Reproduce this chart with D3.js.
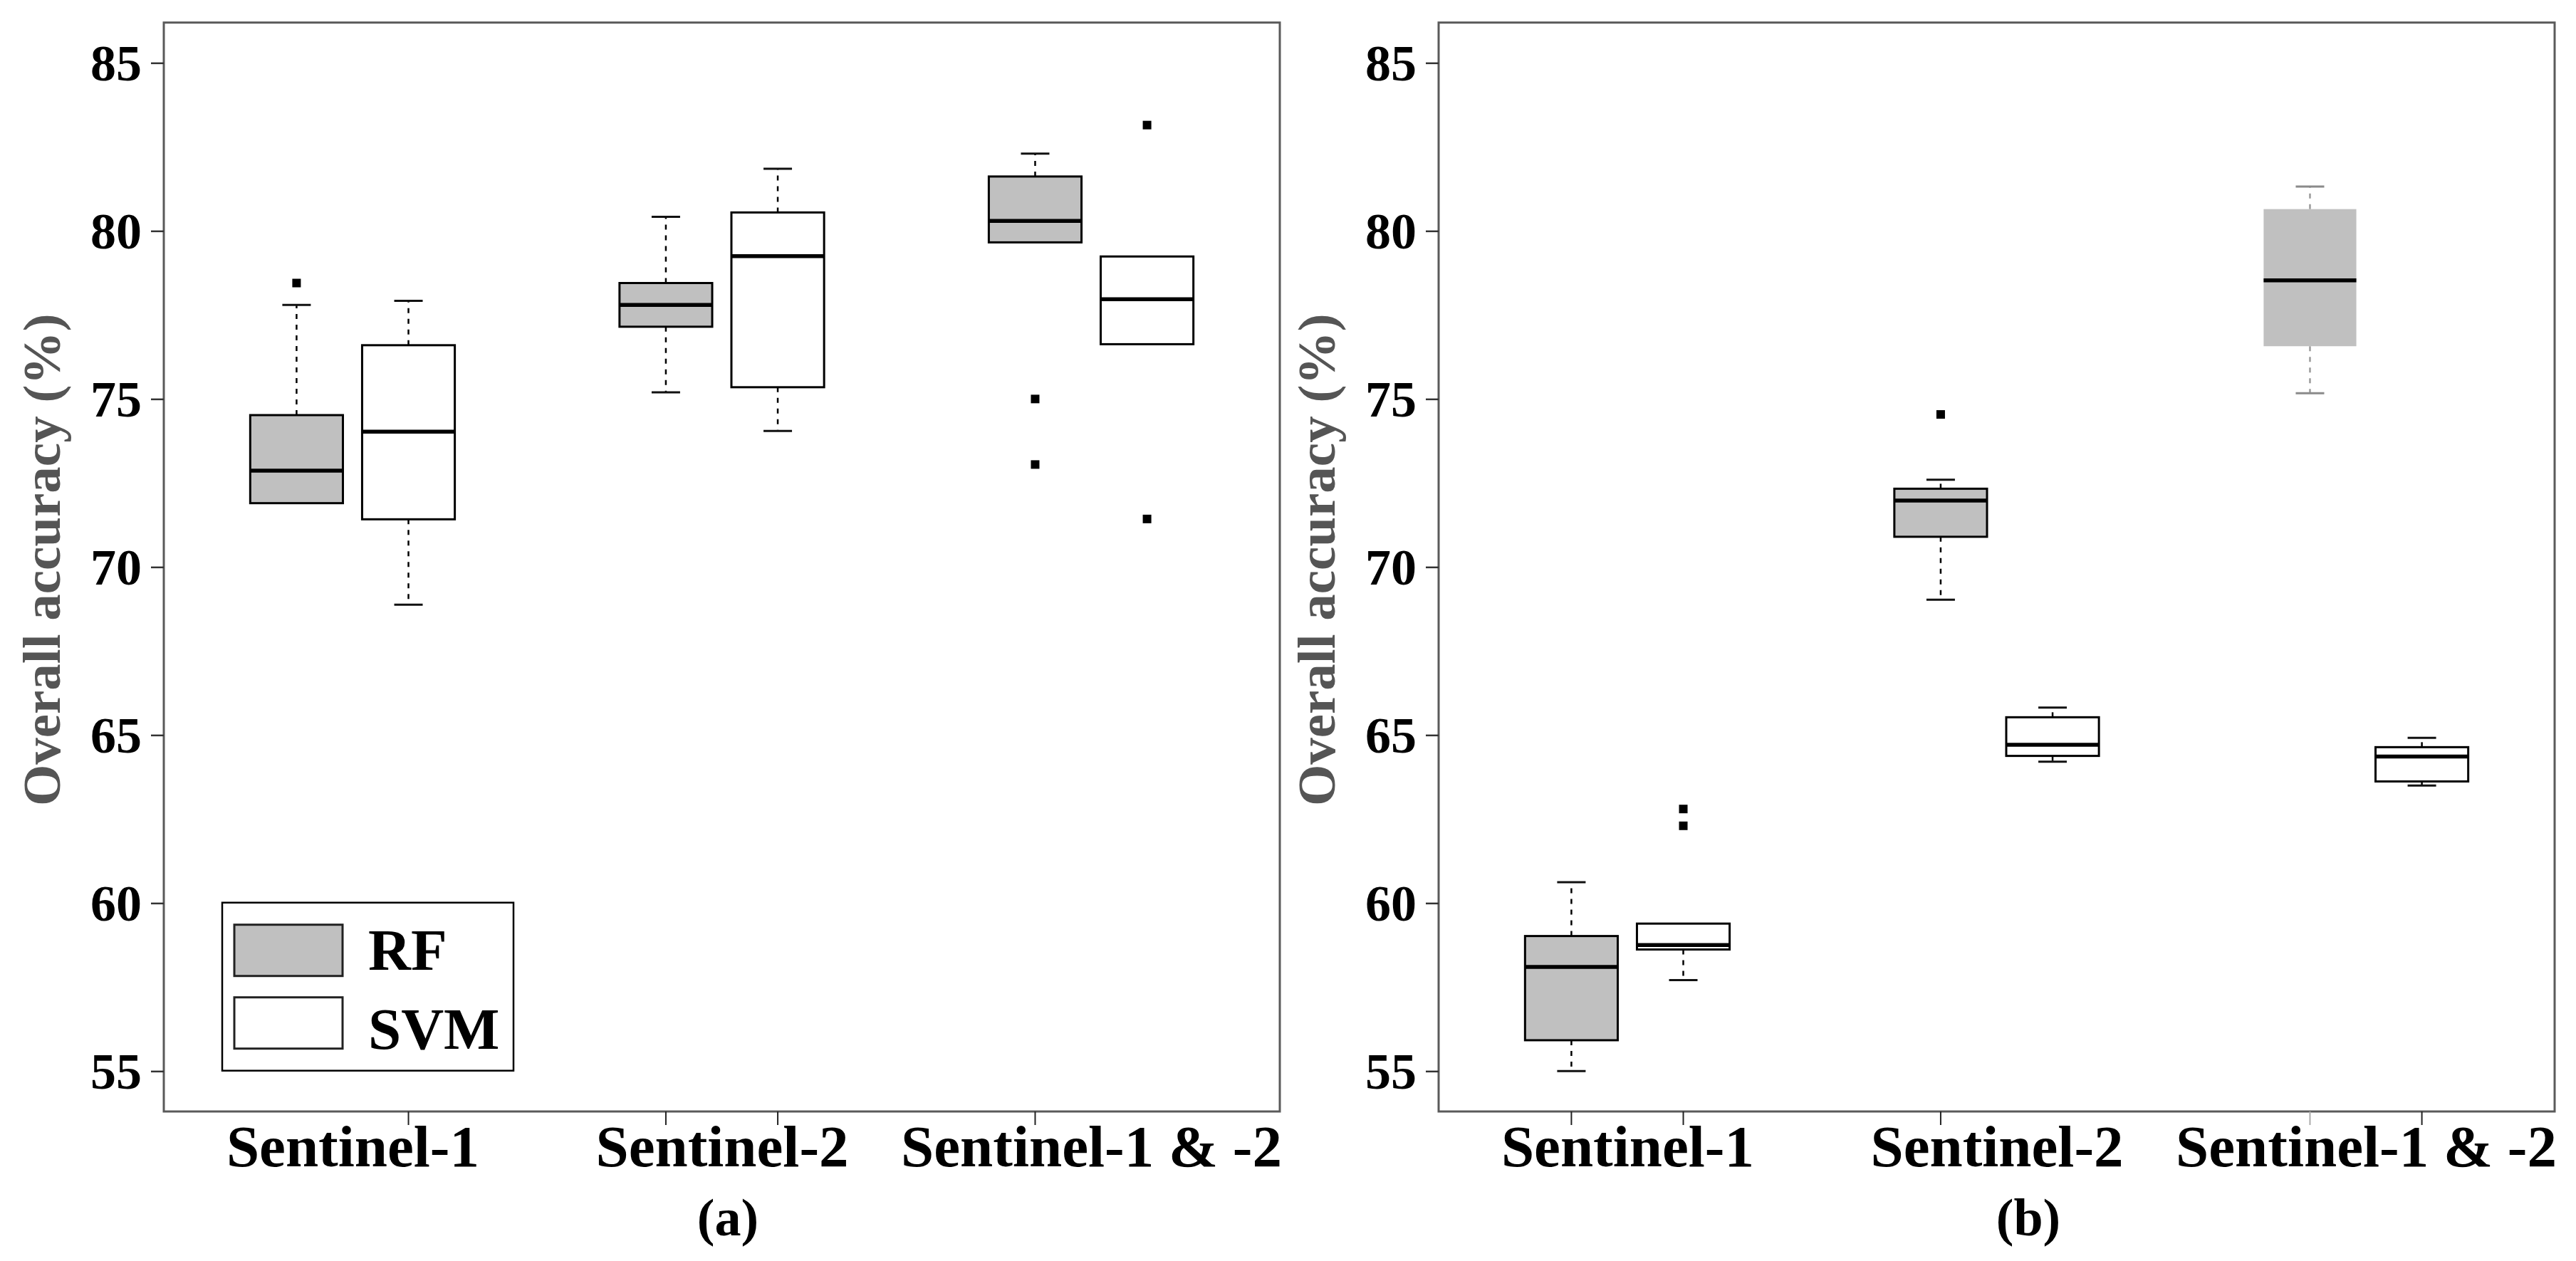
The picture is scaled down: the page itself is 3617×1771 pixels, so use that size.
<!DOCTYPE html>
<html lang="en">
<head>
<meta charset="UTF-8" />
<script src="https://d3js.org/d3.v7.min.js"></script>
<style>
  body { margin: 0; background: #fff; }
  text { font-family: "Liberation Serif", "Times New Roman", serif; font-weight: bold; }
</style>
</head>
<body>
<svg id="chart" width="3617" height="1771"></svg>
<script>
  const groups = ["Sentinel-1", "Sentinel-2", "Sentinel-1 & -2"];
  const methods = ["RF", "SVM"];
  const yTicks = [55, 60, 65, 70, 75, 80, 85];

  // each box: [lower whisker, Q1, median, Q3, upper whisker]
  const rfA  = [[71.9, 71.9, 72.87, 74.52, 77.8], [75.2, 77.15, 77.8, 78.45, 80.42], [79.66, 79.66, 80.3, 81.62, 82.3]];
  const svmA = [[68.88, 71.42, 74.03, 76.6, 77.92], [74.05, 75.35, 79.25, 80.55, 81.85], [76.63, 76.63, 77.97, 79.24, 79.24]];
  const rfAOut  = [[78.45], [], [75.0, 73.05]];
  const svmAOut = [[], [], [83.15, 71.43]];

  const rfB  = [[55.0, 55.92, 58.1, 59.02, 60.62], [69.03, 70.9, 71.98, 72.33, 72.6], [75.17, 76.57, 78.53, 80.65, 81.32]];
  const svmB = [[57.71, 58.62, 58.75, 59.39, 59.39], [64.21, 64.38, 64.71, 65.53, 65.82], [63.5, 63.62, 64.36, 64.64, 64.92]];
  const rfBOut  = [[], [74.54], []];
  const svmBOut = [[62.8, 62.3], [], []];

  const panels = [
    { tag: "(a)", left: 230, series: [rfA, svmA], outliers: [rfAOut, svmAOut], legend: true,
      tagX: 792, noTick: ["RF|0", "SVM|2"], faint: [] },
    { tag: "(b)", left: 2020, series: [rfB, svmB], outliers: [rfBOut, svmBOut], legend: false,
      tagX: 828, noTick: ["SVM|1"], faint: ["RF|2"] }
  ];

  const fills = { RF: "#c0c0c0", SVM: "#ffffff" };
  const plotTop = 31.7, W = 1567, H = 1529.3;

  const svg = d3.select("#chart");

  panels.forEach(p => {
    const g = svg.append("g").attr("transform", `translate(${p.left},${plotTop})`);

    const y = d3.scaleLinear().domain([53.8, 86.2]).range([H, 0]);
    const x = d3.scalePoint().domain(groups).range([0, W]).padding(0.511);
    const off = x.step() * 0.1515, bw = x.step() * 0.251, capW = 40;
    const cx = (m, i) => x(groups[i]) + (m === 0 ? -off : off);

    // boxes
    methods.forEach((name, m) => {
      p.series[m].forEach((b, i) => {
        const [lo, q1, med, q3, hi] = b;
        const c = cx(m, i);
        const faint = p.faint.includes(`${name}|${i}`);
        const wc = faint ? "#9a9a9a" : "#000";
        const bg = g.append("g");

        [[q3, hi], [q1, lo]].forEach(([a, e]) => {
          if (Math.abs(a - e) < 1e-9) return;
          bg.append("line")
            .attr("x1", c).attr("x2", c).attr("y1", y(a)).attr("y2", y(e))
            .attr("stroke", wc).attr("stroke-width", 2.5).attr("stroke-dasharray", "7,8");
          bg.append("line")
            .attr("x1", c - capW / 2).attr("x2", c + capW / 2).attr("y1", y(e)).attr("y2", y(e))
            .attr("stroke", faint ? "#8a8a8a" : "#111").attr("stroke-width", 3);
        });

        bg.append("rect")
          .attr("x", c - bw / 2).attr("width", bw)
          .attr("y", y(q3)).attr("height", y(q1) - y(q3))
          .attr("fill", fills[name])
          .attr("stroke", faint ? "none" : "#000").attr("stroke-width", 3);

        bg.append("line")
          .attr("x1", c - bw / 2).attr("x2", c + bw / 2).attr("y1", y(med)).attr("y2", y(med))
          .attr("stroke", "#000").attr("stroke-width", 5.5);

        bg.selectAll("rect.out").data(p.outliers[m][i]).enter().append("rect")
          .attr("class", "out")
          .attr("x", c - 6).attr("y", v => y(v) - 6)
          .attr("width", 12).attr("height", 12)
          .attr("fill", "#000");
      });
    });

    // frame
    g.append("rect").attr("width", W).attr("height", H)
      .attr("fill", "none").attr("stroke", "#5a5a5a").attr("stroke-width", 3);

    // y axis
    const ya = g.append("g").call(d3.axisLeft(y).tickValues(yTicks).tickSize(18).tickPadding(13));
    ya.select(".domain").remove();
    ya.selectAll(".tick line").attr("stroke", "#333").attr("stroke-width", 2.5);
    ya.selectAll("text").attr("font-size", 72).attr("fill", "#000").attr("dy", "0.34em");

    // x axis labels at group centres
    const xa = g.append("g").attr("transform", `translate(0,${H})`)
      .call(d3.axisBottom(x).tickSize(0));
    xa.select(".domain").remove();
    xa.selectAll("text").attr("font-size", 83).attr("fill", "#000").attr("y", 77).attr("dy", 0);

    // x ticks at each box
    methods.forEach((name, m) => {
      groups.forEach((gr, i) => {
        const key = `${name}|${i}`;
        if (p.noTick.includes(key)) return;
        g.append("line")
          .attr("x1", cx(m, i)).attr("x2", cx(m, i)).attr("y1", H).attr("y2", H + 19)
          .attr("stroke", p.faint.includes(key) ? "#aaa" : "#222").attr("stroke-width", 2);
      });
    });

    // y title
    g.append("text")
      .attr("transform", `translate(-146,${H / 2 - 10}) rotate(-90)`)
      .attr("text-anchor", "middle")
      .attr("font-size", 75).attr("fill", "#555")
      .text("Overall accuracy (%)");

    // panel tag
    g.append("text")
      .attr("x", p.tagX).attr("y", 1703)
      .attr("text-anchor", "middle").attr("font-size", 74).attr("fill", "#000")
      .text(p.tag);

    if (p.legend) {
      const lg = g.append("g").attr("transform", "translate(82,1236)");
      lg.append("rect").attr("width", 409).attr("height", 236)
        .attr("fill", "#fff").attr("stroke", "#000").attr("stroke-width", 2.5);
      methods.forEach((name, m) => {
        const row = lg.append("g").attr("transform", `translate(17,${31 + m * 102})`);
        row.append("rect").attr("width", 152).attr("height", 72)
          .attr("fill", fills[name]).attr("stroke", "#222").attr("stroke-width", 3);
        row.append("text").attr("x", 188).attr("y", m === 0 ? 63 : 72)
          .attr("font-size", 83).attr("fill", "#000").text(name);
      });
    }
  });
</script>
</body>
</html>
